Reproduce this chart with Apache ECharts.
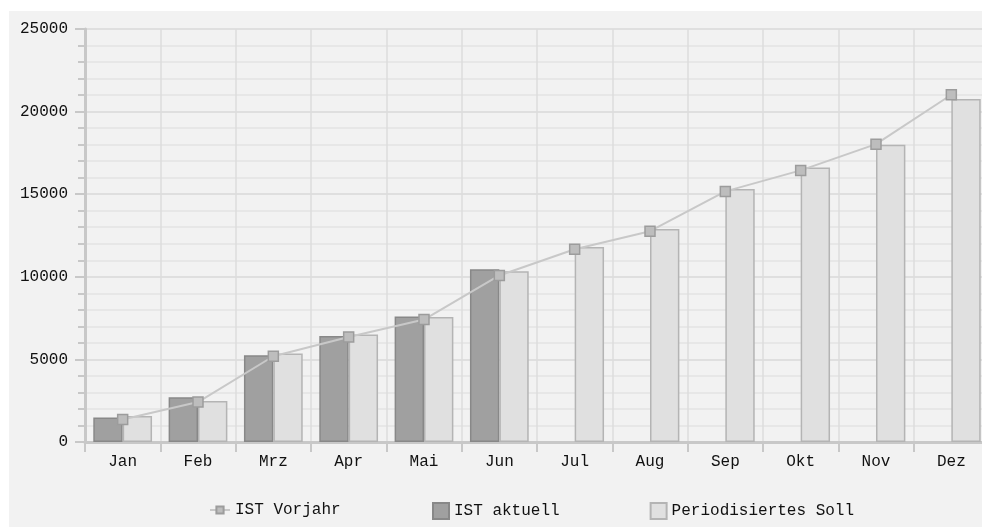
<!DOCTYPE html>
<html>
<head>
<meta charset="utf-8">
<script src="https://cdn.jsdelivr.net/npm/echarts@6/dist/echarts.min.js"></script>
<style>
html,body{margin:0;padding:0;background:#ffffff;overflow:hidden;width:982px;height:527px;}
#chart{position:absolute;left:9px;top:11px;width:990px;height:516px;background:#f2f2f2;}
</style>
</head>
<body>
<div id="chart"></div>
<script>
const months = ['Jan','Feb','Mrz','Apr','Mai','Jun','Jul','Aug','Sep','Okt','Nov','Dez'];
const istVorjahr = [1360, 2420, 5190, 6360, 7410, 10080, 11670, 12760, 15170, 16440, 18030, 21020];
const istAktuell = [1480, 2710, 5250, 6420, 7600, 10460, null, null, null, null, null, null];
const periodSoll = [1570, 2480, 5350, 6500, 7570, 10340, 11800, 12900, 15320, 16620, 17990, 20760];
const yTicks = [0, 5000, 10000, 15000, 20000, 25000];

const FONT = 'Liberation Mono';
const TXT = {fontFamily: FONT, fontSize: 16, color: '#111'};
const chart = echarts.init(document.getElementById('chart'), null, {renderer:'canvas'});
chart.setOption({
  backgroundColor: '#f2f2f2',
  animation: false,
  textStyle: {fontFamily: FONT},
  grid: {left: 76, top: 18, width: 904, height: 413, containLabel: false},
  legend: [
    {
      left: 195, top: 486,
      itemWidth: 20, itemHeight: 9, itemGap: 90,
      textStyle: TXT,
      data: ['IST Vorjahr']
    },
    {
      left: 418, top: 486,
      itemWidth: 16, itemHeight: 16, itemGap: 90,
      icon: 'rect',
      textStyle: TXT,
      data: ['IST aktuell', 'Periodisiertes Soll']
    }
  ],
  xAxis: {
    type: 'category',
    data: months,
    axisLine: {lineStyle: {color: '#c8c8c8', width: 3}},
    axisTick: {show: true, length: 10, lineStyle: {color: '#c8c8c8', width: 2}},
    axisLabel: Object.assign({margin: 12}, TXT),
    splitLine: {show: true, lineStyle: {color: '#dcdcdc', width: 1.5}}
  },
  yAxis: {
    type: 'value',
    min: yTicks[0], max: yTicks[yTicks.length-1], interval: 5000,
    axisLine: {show: true, lineStyle: {color: '#c8c8c8', width: 3}},
    axisTick: {show: true, length: 10, lineStyle: {color: '#c8c8c8', width: 2}},
    minorTick: {show: true, splitNumber: 5, length: 7, lineStyle: {color: '#c8c8c8', width: 2}},
    axisLabel: Object.assign({margin: 17, formatter: function (v) { return String(v); }}, TXT),
    splitLine: {show: true, lineStyle: {color: '#d8d8d8', width: 1.5}},
    minorSplitLine: {show: true, lineStyle: {color: '#e4e4e4', width: 1.5}}
  },
  series: [
    {
      name: 'IST Vorjahr', type: 'line', data: istVorjahr, z: 5,
      symbol: 'rect', symbolSize: 10,
      lineStyle: {color: '#c8c8c8', width: 2},
      itemStyle: {color: '#bdbdbd', borderColor: '#9c9c9c', borderWidth: 1.5}
    },
    {
      name: 'IST aktuell', type: 'bar', data: istAktuell,
      barGap: '0%', barCategoryGap: '22%',
      itemStyle: {color: '#a0a0a0', borderColor: '#888888', borderWidth: 1.5}
    },
    {
      name: 'Periodisiertes Soll', type: 'bar', data: periodSoll,
      barGap: '0%', barCategoryGap: '22%',
      itemStyle: {color: '#e0e0e0', borderColor: '#b4b4b4', borderWidth: 1.5}
    }
  ]
});
</script>
</body>
</html>
